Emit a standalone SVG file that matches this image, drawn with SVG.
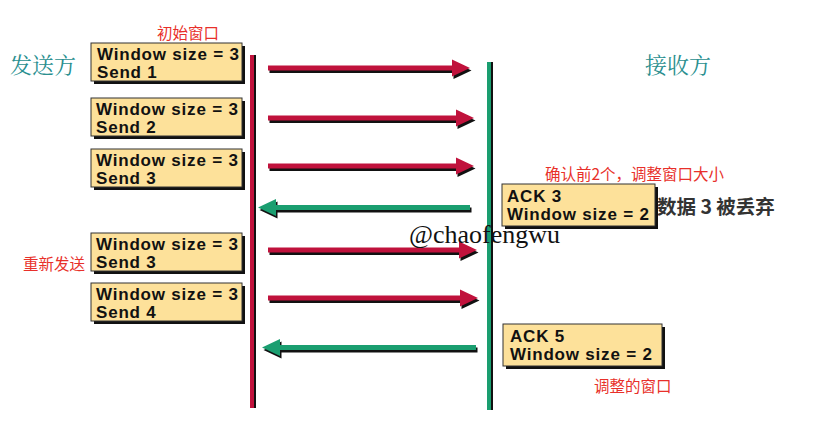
<svg xmlns="http://www.w3.org/2000/svg" width="815" height="424" viewBox="0 0 815 424">
<defs>
<style>
.box{fill:#fde19a;stroke:#333;stroke-width:1}
.sh{fill:#111}
.bt{font-family:"Liberation Sans",Arial,sans-serif;font-weight:bold;font-size:17px;letter-spacing:0.8px;fill:#111}
.red{font-family:"Noto Sans CJK SC",sans-serif;font-size:15.5px;fill:#e8302a}
.side{font-family:"Noto Serif CJK SC","Noto Sans CJK SC",serif;font-size:22px;fill:#2a8f8f}
.ra{fill:#c0123c}
.ga{fill:#1a9e70}
</style>
</defs>
<rect width="815" height="424" fill="#fff"/>
<text class="side" x="10" y="73">发送方</text>
<text class="side" x="645" y="73">接收方</text>
<text class="red" x="157" y="39">初始窗口</text>
<text class="red" x="545" y="180">确认前2个，调整窗口大小</text>
<text class="red" x="23" y="270">重新发送</text>
<text class="red" x="594" y="392">调整的窗口</text>
<text x="657" y="214" style="font-family:'Noto Sans CJK SC',sans-serif;font-weight:bold;font-size:19.5px;fill:#333">数据 3 被丢弃</text>

<g id="lifelines">
<rect x="252" y="55" width="4" height="353" class="sh"/>
<rect x="250" y="55" width="4" height="353" class="ra"/>
<rect x="489" y="62" width="4" height="348" class="sh"/>
<rect x="487" y="62" width="4" height="348" class="ga"/>
</g>

<g id="connectors">
<path class="sh" d="M269.5 68h184v-6l18 8.5-18 8.5v-6h-184z"/>
<path class="ra" d="M268 65.5h184v-6l18 8.5-18 8.5v-6h-184z"/>
<path class="sh" d="M269.5 118h188v-6l18 8.5-18 8.5v-6h-188z"/>
<path class="ra" d="M268 115.5h188v-6l18 8.5-18 8.5v-6h-188z"/>
<path class="sh" d="M269.5 166h188v-6l18 8.5-18 8.5v-6h-188z"/>
<path class="ra" d="M268 163.5h188v-6l18 8.5-18 8.5v-6h-188z"/>
<path class="sh" d="M471.5 207.5h-194v-6l-18 8.5 18 8.5v-6h194z"/>
<path class="ga" d="M470 205h-194v-6l-18 8.5 18 8.5v-6h194z"/>
<path class="sh" d="M269.5 250h191v-6l18 8.5-18 8.5v-6h-191z"/>
<path class="ra" d="M268 247.5h191v-6l18 8.5-18 8.5v-6h-191z"/>
<path class="sh" d="M269.5 298h192v-6l18 8.5-18 8.5v-6h-192z"/>
<path class="ra" d="M268 295.5h192v-6l18 8.5-18 8.5v-6h-192z"/>
<path class="sh" d="M477.5 347.5h-196v-6l-18 8.5 18 8.5v-6h196z"/>
<path class="ga" d="M476 345h-196v-6l-18 8.5 18 8.5v-6h196z"/>
</g>

<g id="s1"><rect x="94" y="46" width="151" height="38" class="sh"/><rect x="91" y="43" width="151" height="38" class="box"/><text class="bt" x="97" y="60">Window size = 3</text><text class="bt" x="97" y="78">Send 1</text></g>
<g id="s2"><rect x="94" y="101" width="151" height="38" class="sh"/><rect x="91" y="98" width="151" height="38" class="box"/><text class="bt" x="96" y="115">Window size = 3</text><text class="bt" x="96" y="133">Send 2</text></g>
<g id="s3"><rect x="94" y="152" width="151" height="38" class="sh"/><rect x="91" y="149" width="151" height="38" class="box"/><text class="bt" x="96" y="166">Window size = 3</text><text class="bt" x="96" y="184">Send 3</text></g>
<g id="s4"><rect x="94" y="236" width="151" height="38" class="sh"/><rect x="91" y="233" width="151" height="38" class="box"/><text class="bt" x="96" y="250">Window size = 3</text><text class="bt" x="96" y="268">Send 3</text></g>
<g id="s5"><rect x="94" y="286" width="151" height="38" class="sh"/><rect x="91" y="283" width="151" height="38" class="box"/><text class="bt" x="96" y="300">Window size = 3</text><text class="bt" x="96" y="318">Send 4</text></g>
<g id="ack3"><rect x="505" y="187" width="153" height="42" class="sh"/><rect x="502" y="184" width="153" height="42" class="box"/><text class="bt" x="507" y="202">ACK 3</text><text class="bt" x="507" y="220">Window size = 2</text></g>
<g id="ack5"><rect x="506" y="327" width="159" height="42" class="sh"/><rect x="503" y="324" width="159" height="42" class="box"/><text class="bt" x="510" y="342">ACK 5</text><text class="bt" x="510" y="360">Window size = 2</text></g>

<text x="409" y="243" style="font-family:'Liberation Serif',serif;font-size:26px;fill:#111">@chaofengwu</text>
</svg>
